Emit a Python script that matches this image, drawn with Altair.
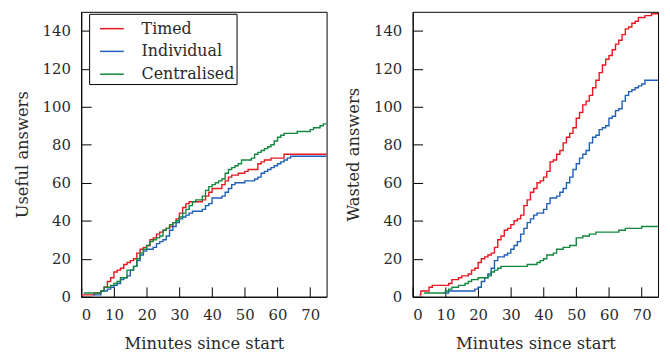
import altair as alt
import pandas as pd

SERIES = ["Timed", "Individual", "Centralised"]
COLORS = ["#e8161f", "#1f5fb8", "#12873d"]

X_TICKS = [0, 10, 20, 30, 40, 50, 60, 70]
Y_TICKS = [0, 20, 40, 60, 80, 100, 120, 140]

# ---- Useful answers (left panel) ----
useful_timed_t = [0, 4, 6, 7, 8, 9, 10, 11, 12, 13, 14, 15, 16, 17, 18, 19, 20, 21, 22, 23, 24,
                  25, 26, 27, 28, 29, 30, 31, 32, 33, 36, 37, 38, 39, 40, 42, 43, 44, 45, 46,
                  48, 50, 51, 54, 55, 56, 58, 62, 75]
useful_timed_v = [1, 2, 3, 5, 8, 10, 13, 14, 15, 17, 18, 19, 20, 23, 25, 26, 27, 30, 31, 33, 34,
                  35, 36, 37, 39, 41, 44, 47, 49, 50, 50, 51, 53, 55, 57, 57, 59, 61, 63, 64,
                  65, 66, 67, 70, 71, 72, 73, 75, 75]

useful_indiv_t = [3.6, 6, 8, 9, 10, 11, 12, 13, 14, 15, 16, 17, 18, 19, 20, 22, 23, 24, 25, 26,
                  27, 28, 29, 30, 31, 32, 33, 34, 37, 38, 39, 40, 43, 44, 45, 46, 47, 50, 53,
                  54, 55, 56, 57, 58, 59, 60, 61, 62, 63, 64, 75]
useful_indiv_v = [1, 3, 4, 5, 6, 7, 9, 10, 11, 14, 16, 19, 22, 24, 25, 26, 28, 29, 30, 32,
                  35, 37, 39, 41, 42, 43, 44, 45, 46, 48, 49, 52, 53, 55, 57, 59, 60, 61, 62,
                  63, 65, 66, 67, 68, 69, 70, 71, 72, 73, 74, 74]

useful_central_t = [0.8, 6, 7, 9, 10, 11, 12, 14, 16, 17, 18, 19, 20, 21, 22, 23, 24, 25, 26, 27,
                    28, 29, 30, 31, 32, 33, 34, 35, 37, 38, 39, 40, 41, 42, 43, 44, 45, 46, 47,
                    48, 49, 52, 53, 54, 55, 56, 57, 58, 59, 60, 61, 62, 66, 70, 71, 73, 74, 75]
useful_central_v = [2, 3, 5, 6, 7, 8, 10, 14, 16, 20, 23, 25, 27, 29, 30, 31, 32, 35, 36, 38,
                    39, 40, 42, 44, 46, 48, 50, 51, 53, 56, 58, 59, 60, 61, 62, 65, 67, 68, 69,
                    70, 72, 73, 75, 76, 77, 78, 79, 80, 82, 84, 85, 86, 87, 88, 89, 90, 91, 91]

# ---- Wasted answers (right panel) ----
wasted_timed_t = [2, 2.5, 5, 6, 11, 12, 14, 15, 17, 18, 19, 20, 21, 22, 23, 24, 25, 26, 27, 28,
                  29, 30, 31, 32, 33, 34, 35, 36, 37, 38, 39, 40, 41, 42, 43, 44, 45, 46, 47,
                  48, 49, 50, 51, 52, 53, 54, 55, 56, 57, 58, 59, 60, 61, 62, 63, 64, 65, 66,
                  67, 68, 69, 71, 73, 75]
wasted_timed_v = [1, 3, 5, 6, 7, 9, 10, 11, 12, 14, 15, 18, 20, 21, 22, 23, 26, 30, 32, 35,
                  36, 38, 40, 41, 43, 48, 51, 55, 57, 60, 61, 63, 66, 71, 72, 75, 77, 81, 84,
                  86, 89, 94, 97, 101, 103, 106, 110, 114, 118, 122, 125, 127, 130, 133, 135,
                  138, 141, 142, 144, 145, 147, 148, 149, 149]

wasted_indiv_t = [9.5, 11, 19, 20, 21, 22, 23, 24, 25, 26, 28, 29, 30, 31, 32, 33, 34, 35, 36,
                  37, 38, 40, 41, 42, 44, 45, 46, 47, 48, 49, 50, 51, 52, 53, 54, 55, 56, 57,
                  58, 59, 60, 61, 62, 63, 64, 65, 66, 67, 68, 69, 70, 71, 75]
wasted_indiv_v = [2, 3, 4, 5, 8, 10, 12, 15, 19, 21, 22, 23, 25, 27, 29, 33, 36, 39, 41,
                  43, 44, 46, 49, 52, 53, 55, 57, 60, 63, 67, 70, 73, 75, 77, 81, 84, 85, 88,
                  89, 90, 94, 95, 98, 99, 103, 106, 108, 109, 110, 111, 112, 114, 114]

wasted_central_t = [3.5, 10, 11, 12, 14, 16, 17, 18, 20, 23, 24, 25, 26, 27, 35, 38, 39, 40, 41,
                    43, 44, 46, 48, 50, 52, 54, 56, 63, 65, 70, 75]
wasted_central_v = [2, 3, 4, 5, 6, 7, 8, 9, 10, 11, 13, 14, 15, 16, 17, 18, 19, 20, 22,
                    23, 25, 26, 27, 31, 32, 33, 34, 35, 36, 37, 37]


def frame(pairs):
    rows = []
    for name, ts, vs in pairs:
        for i, (t, v) in enumerate(zip(ts, vs)):
            rows.append({"series": name, "t": t, "v": v, "order": i})
    return pd.DataFrame(rows)


useful = frame([("Timed", useful_timed_t, useful_timed_v),
                ("Individual", useful_indiv_t, useful_indiv_v),
                ("Centralised", useful_central_t, useful_central_v)])
wasted = frame([("Timed", wasted_timed_t, wasted_timed_v),
                ("Individual", wasted_indiv_t, wasted_indiv_v),
                ("Centralised", wasted_central_t, wasted_central_v)])

FONT = "DejaVu Serif"
TXT = "#2a2a2a"


def panel(df, ytitle, legend):
    color = alt.Color(
        "series:N",
        scale=alt.Scale(domain=SERIES, range=COLORS),
        sort=SERIES,
        legend=alt.Legend(
            title=None, orient="none", legendX=8, legendY=2, padding=2,
            strokeColor="black", fillColor="white",
            symbolType="stroke", symbolSize=576, symbolStrokeWidth=1.5,
            symbolOffset=8,
            labelFont=FONT, labelFontSize=16, labelColor=TXT,
            labelOffset=17, rowPadding=2, labelLimit=300,
        ) if legend else None,
    )
    return alt.Chart(df).mark_line(interpolate="step-after", strokeWidth=1.4).encode(
        x=alt.X("t:Q", scale=alt.Scale(domain=[0, 75], nice=False),
                axis=alt.Axis(values=X_TICKS, title="Minutes since start",
                              labelPadding=21, titlePadding=13)),
        y=alt.Y("v:Q", scale=alt.Scale(domain=[0, 150], nice=False),
                axis=alt.Axis(values=Y_TICKS, title=ytitle,
                              labelPadding=21, titlePadding=12)),
        color=color,
        detail="series:N",
        order="order:Q",
    ).properties(width=248, height=288)


left = panel(useful, "Useful answers", True)
right = panel(wasted, "Wasted answers", False)

chart = alt.hconcat(left, right, spacing=14).resolve_scale(color="independent").properties(
    padding={"left": 5, "top": 0, "right": 0, "bottom": 0}
).configure_view(stroke="black", strokeWidth=1).configure_axis(
    labelFont=FONT, labelFontSize=15, labelColor=TXT,
    titleFont=FONT, titleFontSize=16.5, titleFontWeight="normal", titleColor=TXT,
    tickSize={"expr": "-10"}, tickColor="black", tickWidth=1,
    domainColor="black", grid=False,
)

chart.save("out.html", embed_options={"renderer": "svg", "actions": False})
